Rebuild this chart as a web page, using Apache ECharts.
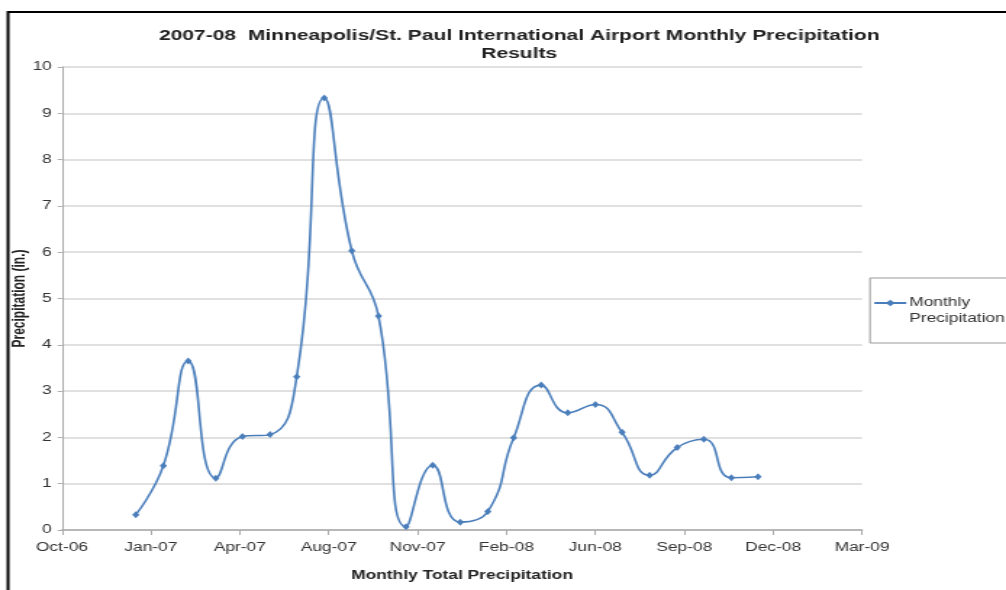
<!DOCTYPE html>
<html>
<head>
<meta charset="utf-8">
<script src="https://cdn.jsdelivr.net/npm/echarts@6/dist/echarts.min.js"></script>
<style>
html,body{margin:0;padding:0;background:#fff;overflow:hidden;}
/* the source picture is stretched sideways, so the chart is drawn narrow and widened */
#chart{width:694px;height:590px;transform-origin:0 0;transform:scaleX(1.4496);}
</style>
</head>
<body>
<div id="chart"></div>
<script>
// months of the record (first day of each month)
var months = ['2007-01','2007-02','2007-03','2007-04','2007-05','2007-06','2007-07','2007-08','2007-09','2007-10','2007-11','2007-12',
              '2008-01','2008-02','2008-03','2008-04','2008-05','2008-06','2008-07','2008-08','2008-09','2008-10','2008-11','2008-12'];
// monthly precipitation, inches
var precip = [0.33, 1.39, 3.65, 1.12, 2.02, 2.06, 3.31, 9.33, 6.03, 4.62, 0.07, 1.40,
              0.17, 0.40, 1.99, 3.13, 2.53, 2.71, 2.11, 1.18, 1.78, 1.96, 1.13, 1.15];
var monthNames = ['Jan','Feb','Mar','Apr','May','Jun','Jul','Aug','Sep','Oct','Nov','Dec'];

var S = 1.4496; // horizontal stretch

// excel style serial day numbers for the date axis
function toSerial(s){
	var p = s.split('-');
	return Date.UTC(+p[0], +p[1]-1, 1)/86400000 + 25569;
}
function serialLabel(v){
	var d = new Date((v - 25569)*86400000);
	var yy = String(d.getUTCFullYear()).slice(2);
	return monthNames[d.getUTCMonth()] + '-' + yy;
}

var data = new Array();
for(var i=0;i<months.length;i++){
	data[i] = [toSerial(months[i]), precip[i]];
}

var chart = echarts.init(document.getElementById('chart'));
var option = {
	animation: false,
	title: {
		text: '2007-08  Minneapolis/St. Paul International Airport Monthly Precipitation\nResults',
		left: 512/S,
		textAlign: 'center',
		top: 22,
		textStyle: {fontFamily: 'Arial', fontSize: 14.5, fontWeight: 'bold', color: '#222', lineHeight: 18}
	},
	graphic: [{
		type: 'rect',
		shape: {x: 8/S, y: 12, width: 1100/S, height: 700},
		style: {fill: 'none', stroke: '#000', lineWidth: 2}
	}],
	legend: {
		orient: 'vertical',
		left: 870/S,
		top: 278,
		padding: [1, 30, 16, 2],
		borderColor: '#999',
		borderWidth: 1,
		itemWidth: 22,
		itemHeight: 8,
		// leading blank line keeps the first text line level with the icon
		formatter: function(){ return ' \nMonthly\nPrecipitation'; },
		textStyle: {fontFamily: 'Arial', fontSize: 12, color: '#333', lineHeight: 16, padding: [0, 0, 0, -3]}
	},
	grid: {left: 62/S, right: (1006-862)/S, top: 67, bottom: 60, outerBoundsMode: 'none'},
	xAxis: {
		type: 'value',
		min: 39000,
		max: 39900,
		interval: 100,
		name: 'Monthly Total Precipitation',
		nameLocation: 'middle',
		nameGap: 40,
		nameTextStyle: {fontFamily: 'Arial', fontSize: 12, fontWeight: 'bold', color: '#222'},
		axisLine: {lineStyle: {color: '#aaa', width: 1.5}},
		axisTick: {show: true, length: 5, lineStyle: {color: '#aaa'}},
		axisLabel: {formatter: serialLabel, margin: 12, fontFamily: 'Arial', fontSize: 12, color: '#333'},
		splitLine: {show: false}
	},
	yAxis: {
		type: 'value',
		min: 0,
		max: 10,
		interval: 1,
		name: 'Precipitation (in.)',
		nameLocation: 'middle',
		nameGap: 23,
		nameMoveOverlap: false,
		nameTextStyle: {fontFamily: 'Arial', fontSize: 12, fontWeight: 'bold', color: '#222'},
		axisLine: {show: true, lineStyle: {color: '#aaa', width: 1}},
		axisTick: {show: true, length: 3, lineStyle: {color: '#aaa'}},
		axisLabel: {margin: 7, fontFamily: 'Arial', fontSize: 12, color: '#333'},
		splitLine: {lineStyle: {color: '#d6d6d6', width: 1.5}}
	},
	series: [{
		name: 'Monthly Precipitation',
		type: 'line',
		smooth: 0.5,
		data: data,
		symbol: 'diamond',
		symbolSize: [5, 7],
		lineStyle: {color: '#4a7ebb', width: 1.6},
		itemStyle: {color: '#4a7ebb'}
	}]
};
chart.setOption(option);
</script>
</body>
</html>
